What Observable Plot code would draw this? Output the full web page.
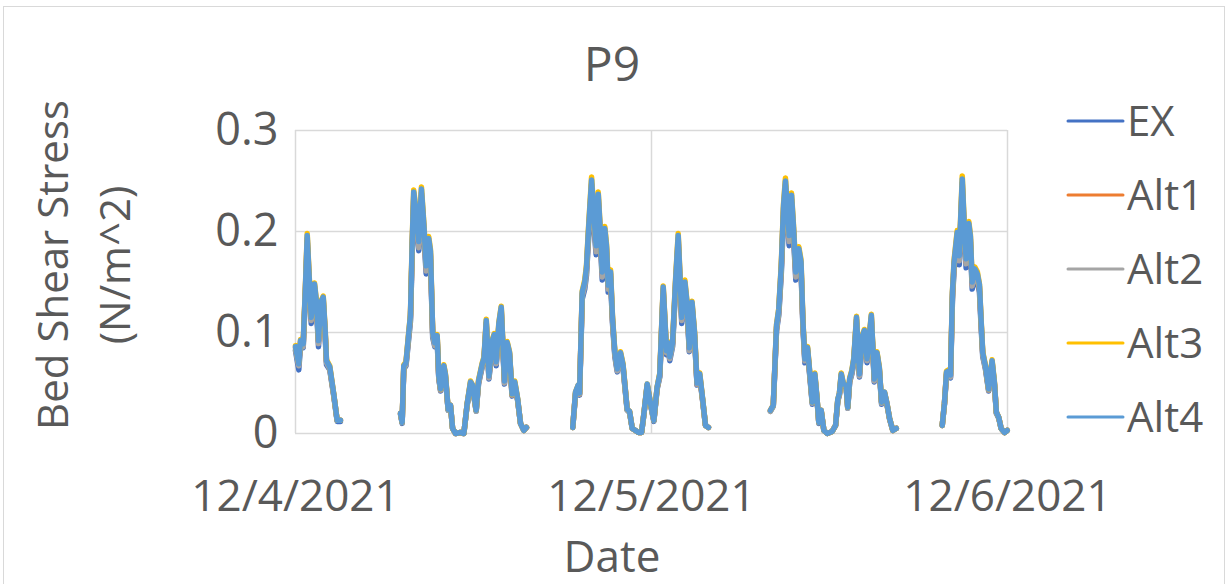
<!DOCTYPE html>
<html><head><meta charset="utf-8">
<script src="https://cdn.jsdelivr.net/npm/d3@7"></script>
<script src="https://cdn.jsdelivr.net/npm/@observablehq/plot@0.6"></script>
<style>
body{margin:0;background:#fff;}
#wrap{position:relative;width:1227px;height:584px;overflow:hidden;font-family:"Open Sans",sans-serif;}
#frame{position:absolute;left:3px;top:6px;width:1222px;height:620px;border:1.5px solid #d9d9d9;box-sizing:border-box;}
#wrap svg{position:absolute;left:0;top:0;}
</style></head><body><div id="wrap"><div id="frame"></div></div>
<script>
const titleText = "P9";
const xTitle = "Date";
const yTitleLines = ["Bed Shear Stress", "(N/m^2)"];
const seriesNames = ["EX", "Alt1", "Alt2", "Alt3", "Alt4"];
const seriesColors = ["#4472C4", "#ED7D31", "#A5A5A5", "#FFC000", "#5B9BD5"];
const yTicks = [0, 0.1, 0.2, 0.3];
const yTickLabels = ["0", "0.1", "0.2", "0.3"];
const xTickLabels = ["12/4/2021", "12/5/2021", "12/6/2021"];

// hours after 12/4/2021 00:00 (null value = gap in record)
const hours = [
0.00,0.22,0.34,0.52,0.67,0.79,0.90,1.06,1.28,1.42,1.55,1.69,1.87,2.00,2.09,2.31,2.58,2.81,3.03,
5,
7.08,7.19,7.30,7.45,7.60,7.75,7.87,7.97,8.16,8.31,8.49,8.66,8.81,8.98,9.10,9.25,9.39,9.55,9.66,9.78,10.00,10.11,10.29,10.45,10.59,10.79,11.12,11.35,11.57,11.80,11.93,12.18,12.34,12.59,12.71,12.86,13.04,13.27,13.40,13.53,13.71,13.87,14.09,14.27,14.43,14.60,14.78,14.97,15.17,15.39,15.57,
17,
18.69,18.88,19.06,19.15,19.33,19.50,19.62,19.73,19.96,20.12,20.27,20.41,20.53,20.68,20.85,20.97,21.08,21.24,21.37,21.53,21.69,21.91,22.08,22.36,22.52,22.70,22.92,23.12,23.33,23.49,23.71,23.93,24.16,24.38,24.56,24.79,25.01,25.11,25.23,25.42,25.62,25.80,26.04,26.25,26.39,26.55,26.73,26.90,27.07,27.25,27.44,27.64,27.84,
30,
32.02,32.21,32.43,32.58,32.75,32.90,33.03,33.17,33.28,33.44,33.57,33.73,33.93,34.08,34.21,34.34,34.52,34.67,34.84,35.01,35.16,35.28,35.44,35.62,35.85,36.18,36.41,36.56,36.67,36.79,36.94,37.12,37.23,37.36,37.51,37.64,37.82,38.02,38.19,38.35,38.53,38.69,38.82,39.02,39.20,39.36,39.51,39.71,39.87,40.05,40.27,40.50,
42,
43.60,43.75,43.89,44.04,44.16,44.29,44.40,44.61,44.75,44.85,44.95,45.07,45.21,45.39,45.50,45.62,45.79,45.97,46.11,46.21,46.33,46.51,46.73,46.96,47.12,47.25,47.41,47.57,47.80,47.98
];

const EX = [
.082,.063,.087,.085,.138,.186,.153,.109,.141,.123,.086,.123,.128,.097,.068,.063,.037,.012,.012,
null,
.019,.010,.064,.067,.089,.111,.181,.227,.204,.181,.230,.195,.158,.183,.171,.095,.086,.092,.054,.042,.064,.055,.023,.027,.005,.000,.001,.000,.028,.048,.046,.022,.049,.066,.071,.106,.054,.087,.093,.067,.104,.119,.049,.086,.076,.037,.048,.033,.010,.003,.006,
null,
.006,.039,.046,.038,.133,.143,.157,.186,.238,.204,.177,.225,.195,.152,.193,.176,.140,.152,.109,.076,.061,.076,.065,.023,.021,.005,.003,.001,.001,.019,.047,.029,.012,.044,.056,.138,.078,.086,.072,.086,.143,.186,.109,.143,.124,.081,.124,.095,.048,.056,.033,.008,.006,
null,
.022,.027,.102,.117,.158,.214,.238,.209,.186,.224,.195,.152,.174,.162,.105,.070,.081,.057,.029,.056,.033,.010,.022,.003,.000,.002,.008,.032,.038,.056,.047,.046,.025,.051,.059,.070,.109,.056,.090,.097,.070,.092,.111,.051,.076,.062,.029,.039,.029,.014,.003,.005,
null,
.008,.029,.058,.059,.055,.133,.162,.189,.167,.204,.239,.200,.164,.198,.185,.143,.155,.150,.140,.109,.076,.064,.042,.068,.048,.020,.015,.005,.001,.003
];

const Alt1 = [
.085,.068,.091,.088,.143,.193,.159,.113,.146,.127,.091,.127,.133,.100,.071,.065,.038,.013,.013,
null,
.020,.011,.066,.069,.093,.115,.187,.235,.212,.187,.238,.202,.164,.190,.177,.099,.089,.096,.056,.043,.066,.057,.024,.028,.005,.000,.001,.000,.029,.050,.047,.023,.051,.068,.074,.110,.056,.091,.097,.070,.107,.123,.051,.089,.079,.038,.050,.034,.010,.003,.006,
null,
.006,.040,.047,.039,.138,.148,.163,.193,.247,.212,.183,.233,.202,.158,.200,.182,.145,.158,.113,.079,.063,.079,.067,.024,.022,.005,.003,.001,.001,.020,.048,.030,.013,.045,.058,.143,.081,.089,.075,.089,.148,.193,.113,.148,.128,.084,.128,.099,.049,.058,.034,.008,.006,
null,
.023,.028,.105,.121,.164,.222,.246,.217,.193,.232,.202,.158,.180,.167,.108,.073,.084,.059,.031,.058,.034,.011,.023,.003,.000,.002,.008,.033,.039,.058,.048,.047,.026,.053,.061,.073,.113,.058,.094,.100,.073,.096,.115,.053,.079,.064,.031,.040,.030,.015,.003,.005,
null,
.008,.030,.060,.061,.057,.138,.167,.196,.173,.212,.248,.207,.170,.205,.192,.148,.161,.156,.145,.113,.079,.066,.043,.071,.049,.021,.016,.005,.001,.003
];

const Alt2 = [
.083,.067,.089,.086,.141,.190,.156,.112,.144,.125,.089,.125,.131,.099,.070,.064,.038,.013,.013,
null,
.019,.011,.065,.068,.091,.113,.184,.232,.209,.184,.235,.199,.161,.187,.175,.097,.087,.094,.055,.043,.065,.056,.023,.027,.005,.000,.001,.000,.028,.049,.047,.022,.050,.067,.073,.109,.055,.089,.095,.069,.106,.121,.050,.087,.078,.038,.049,.034,.010,.003,.006,
null,
.006,.040,.047,.039,.136,.146,.160,.190,.243,.209,.180,.230,.199,.155,.197,.179,.143,.155,.112,.078,.062,.078,.066,.023,.021,.005,.003,.001,.001,.019,.048,.029,.013,.045,.057,.141,.080,.087,.074,.087,.146,.190,.112,.146,.126,.082,.126,.097,.049,.057,.034,.008,.006,
null,
.022,.027,.104,.119,.161,.218,.243,.213,.190,.229,.199,.155,.178,.165,.107,.072,.082,.058,.030,.057,.034,.011,.022,.003,.000,.002,.008,.033,.039,.057,.048,.047,.025,.052,.060,.072,.112,.057,.092,.099,.072,.094,.113,.052,.078,.063,.030,.040,.029,.015,.003,.005,
null,
.008,.029,.059,.060,.056,.136,.165,.193,.171,.209,.244,.204,.168,.202,.189,.146,.158,.153,.143,.112,.078,.065,.043,.070,.049,.020,.016,.005,.001,.003
];

const Alt3 = [
.087,.070,.093,.090,.146,.198,.163,.116,.149,.130,.093,.130,.136,.103,.073,.067,.039,.013,.013,
null,
.020,.011,.068,.071,.095,.118,.192,.241,.217,.192,.244,.207,.168,.195,.182,.101,.091,.098,.058,.044,.068,.059,.024,.028,.005,.000,.001,.000,.029,.052,.048,.023,.053,.070,.076,.113,.058,.093,.099,.072,.110,.126,.053,.091,.081,.039,.052,.035,.010,.003,.006,
null,
.006,.041,.048,.040,.141,.152,.167,.198,.254,.217,.188,.239,.207,.162,.205,.187,.148,.162,.116,.081,.065,.081,.069,.024,.022,.005,.003,.001,.001,.020,.049,.030,.013,.046,.060,.146,.083,.091,.077,.091,.152,.198,.116,.152,.131,.086,.131,.101,.051,.060,.035,.008,.006,
null,
.023,.028,.108,.124,.168,.227,.253,.222,.198,.238,.207,.162,.185,.172,.111,.075,.086,.061,.031,.060,.035,.011,.023,.003,.000,.002,.008,.034,.040,.060,.049,.048,.026,.055,.063,.075,.116,.060,.096,.103,.075,.098,.118,.055,.081,.066,.031,.041,.030,.015,.003,.005,
null,
.008,.030,.062,.063,.059,.141,.172,.201,.178,.217,.255,.212,.175,.210,.197,.152,.165,.160,.148,.116,.081,.068,.044,.073,.051,.021,.016,.005,.001,.003
];

const Alt4 = [
.086,.069,.092,.089,.145,.196,.161,.115,.148,.129,.092,.129,.135,.102,.072,.066,.039,.013,.013,
null,
.020,.011,.067,.070,.094,.117,.190,.239,.215,.190,.242,.205,.166,.193,.180,.100,.090,.097,.057,.044,.067,.058,.024,.028,.005,.000,.001,.000,.029,.051,.048,.023,.052,.069,.075,.112,.057,.092,.098,.071,.109,.125,.052,.090,.080,.039,.051,.035,.010,.003,.006,
null,
.006,.041,.048,.040,.140,.150,.165,.196,.251,.215,.186,.237,.205,.160,.203,.185,.147,.160,.115,.080,.064,.080,.068,.024,.022,.005,.003,.001,.001,.020,.049,.030,.013,.046,.059,.145,.082,.090,.076,.090,.150,.196,.115,.150,.130,.085,.130,.100,.050,.059,.035,.008,.006,
null,
.023,.028,.107,.123,.166,.225,.250,.220,.196,.236,.205,.160,.183,.170,.110,.074,.085,.060,.031,.059,.035,.011,.023,.003,.000,.002,.008,.034,.040,.059,.049,.048,.026,.054,.062,.074,.115,.059,.095,.102,.074,.097,.117,.054,.080,.065,.031,.041,.030,.015,.003,.005,
null,
.008,.030,.061,.062,.058,.140,.170,.199,.176,.215,.252,.210,.173,.208,.195,.150,.163,.158,.147,.115,.080,.067,.044,.072,.050,.021,.016,.005,.001,.003
];

const seriesValues = [EX, Alt1, Alt2, Alt3, Alt4];
const t0 = Date.UTC(2021, 11, 4);
const xTickDates = [0, 1, 2].map(d => new Date(t0 + d * 864e5));
const rows = seriesNames.map((name, s) =>
  hours.map((h, i) => ({series: name, date: new Date(t0 + h * 3600e3), value: seriesValues[s][i] == null ? NaN : seriesValues[s][i]}))
);

const FONT = '"Open Sans", sans-serif';
const chart = Plot.plot({
  width: 1227, height: 584,
  marginLeft: 295, marginRight: 220, marginTop: 130, marginBottom: 151,
  style: {fontFamily: FONT, color: "#595959", background: "transparent", overflow: "visible"},
  x: {type: "utc", domain: [xTickDates[0], xTickDates[2]]},
  y: {domain: [0, 0.3]},
  color: {domain: seriesNames, range: seriesColors},
  marks: [
    Plot.gridY({ticks: yTicks.slice(1), stroke: "#d9d9d9", strokeOpacity: 1, strokeWidth: 1.5}),
    Plot.gridX({ticks: xTickDates, stroke: "#d9d9d9", strokeOpacity: 1, strokeWidth: 1.5}),
    Plot.ruleY([0], {stroke: "#d9d9d9", strokeWidth: 1.5}),
    Plot.axisY({ticks: yTicks, tickFormat: d => yTickLabels[yTicks.indexOf(d)], tickSize: 0, tickPadding: 17, fontSize: 45, label: null, fill: "#595959"}),
    Plot.axisX({ticks: xTickDates, tickFormat: d => xTickLabels[xTickDates.findIndex(t => +t === +d)], tickSize: 0, tickPadding: 46, fontSize: 44, label: null, fill: "#595959"}),
    ...rows.map(r => Plot.line(r, {x: "date", y: "value", stroke: "series", strokeWidth: 5.5, strokeLinejoin: "round", strokeLinecap: "round"}))
  ]
});
document.getElementById("wrap").appendChild(chart);

const ov = d3.select("#wrap").append("svg")
  .attr("width", 1227).attr("height", 584)
  .style("font-family", FONT).attr("fill", "#595959");
ov.append("text").attr("x", 612).attr("y", 81).attr("text-anchor", "middle").attr("font-size", 48).text(titleText);
ov.append("text").attr("x", 612).attr("y", 572).attr("text-anchor", "middle").attr("font-size", 44).text(xTitle);
const yt = ov.append("text").attr("transform", "translate(68,265) rotate(-90)").attr("text-anchor", "middle").attr("font-size", 42);
yTitleLines.forEach((t, i) => yt.append("tspan").attr("x", 0).attr("y", i * 62).text(t));
seriesNames.forEach((name, i) => {
  const cy = 121 + 74 * i;
  ov.append("line").attr("x1", 1068).attr("x2", 1123).attr("y1", cy).attr("y2", cy)
    .attr("stroke", seriesColors[i]).attr("stroke-width", 3).attr("stroke-linecap", "round");
  ov.append("text").attr("x", 1127).attr("y", cy + 15).attr("font-size", 42).text(name);
});
</script>
</body></html>
